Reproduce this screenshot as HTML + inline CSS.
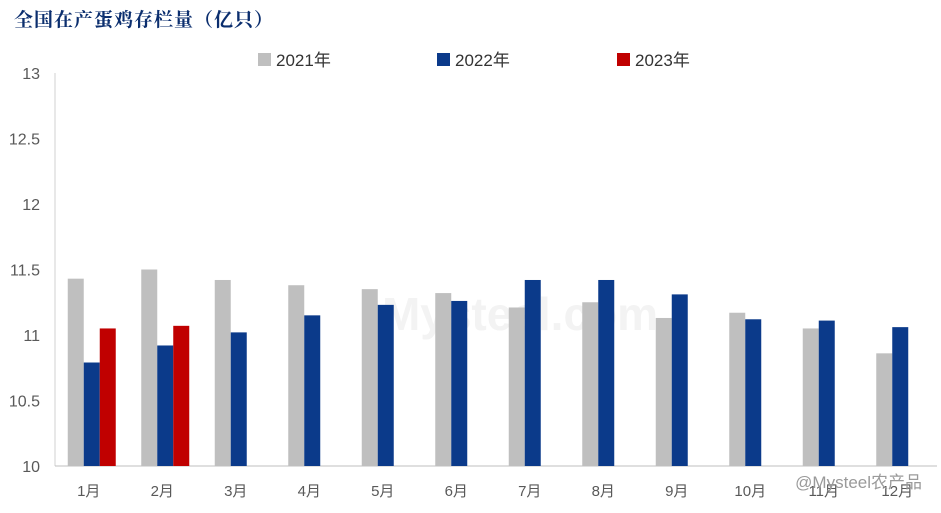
<!DOCTYPE html>
<html><head><meta charset="utf-8">
<style>
html,body{margin:0;padding:0;background:#fff;}
body{width:941px;height:513px;overflow:hidden;position:relative;font-family:"Liberation Sans","Noto Sans CJK SC",sans-serif;}
#title{position:absolute;left:14px;top:5px;font-size:19px;font-weight:bold;color:#0b2e6e;font-family:"Liberation Serif","Noto Serif CJK SC",serif;letter-spacing:1px;}
</style></head><body>
<div id="title">全国在产蛋鸡存栏量（亿只）</div>
<svg id="chart" width="941" height="513" style="position:absolute;left:0;top:0"></svg>
<script>
const categories=["1月","2月","3月","4月","5月","6月","7月","8月","9月","10月","11月","12月"];
const s2021=[11.43,11.50,11.42,11.38,11.35,11.32,11.21,11.25,11.13,11.17,11.05,10.86];
const s2022=[10.79,10.92,11.02,11.15,11.23,11.26,11.42,11.42,11.31,11.12,11.11,11.06];
const s2023=[11.05,11.07];
const yTicks=[10,10.5,11,11.5,12,12.5,13];
const yTickLabels=["10","10.5","11","11.5","12","12.5","13"];
const seriesNames=["2021年","2022年","2023年"];

const NS="http://www.w3.org/2000/svg";
const svg=document.getElementById('chart');
const x0=55,x1=937,yB=466,yT=73,yMin=10,yMax=13;
const step=(x1-x0)/categories.length;
const bw=16;
function y(v){return yB-(v-yMin)/(yMax-yMin)*(yB-yT);}
function cx(i){return x0+step*(i+0.5);}
function mk(tag,attrs){const e=document.createElementNS(NS,tag);for(const k in attrs)e.setAttribute(k,attrs[k]);svg.appendChild(e);return e;}

// watermark
const wm=mk('text',{x:520,y:330,'font-size':46,fill:'#f3f3f3','text-anchor':'middle','font-weight':'bold'});
wm.textContent='Mysteel.com';



// axes
const ya=mk('line',{x1:x0,y1:yT,x2:x0,y2:yB,stroke:'#d0d0d0','stroke-width':1});


const xa=mk('line',{x1:x0,y1:yB,x2:x1,y2:yB,stroke:'#bfbfbf','stroke-width':1});



yTicks.forEach((t,i)=>{
  const tx=mk('text',{x:40,y:y(t)+6,'font-size':16,fill:'#595959','text-anchor':'end'});
  tx.textContent=yTickLabels[i];
  
  
});

const colors=["#bfbfbf","#0b3a8a","#c00000"];
const series=[s2021,s2022,s2023];
categories.forEach((c,i)=>{
  const base=cx(i)-bw*1.5;
  series.forEach((s,k)=>{
    if(i>=s.length)return;
    const r=mk('rect',{x:base+k*bw,y:y(s[i]),width:bw,height:yB-y(s[i]),fill:colors[k]});
    
    
  });
  const lb=mk('text',{x:cx(i)-3,y:496,'font-size':15,fill:'#595959','text-anchor':'middle'});
  lb.textContent=c;
  
  
});

// legend
const lx=[258,437,617];
seriesNames.forEach((n,k)=>{
  const g=document.createElementNS(NS,'g');svg.appendChild(g);
  
  
  const r=document.createElementNS(NS,'rect');
  r.setAttribute('x',lx[k]);r.setAttribute('y',53);r.setAttribute('width',13);r.setAttribute('height',13);r.setAttribute('fill',colors[k]);
  g.appendChild(r);
  const t=document.createElementNS(NS,'text');
  t.setAttribute('x',lx[k]+18);t.setAttribute('y',66);t.setAttribute('font-size',17);t.setAttribute('fill','#333');
  t.textContent=n;g.appendChild(t);
});

const wm2=mk('text',{x:922,y:488,'font-size':17,fill:'#9a9a9a','text-anchor':'end'});
wm2.textContent='@Mysteel农产品';


</script>
</body></html>
